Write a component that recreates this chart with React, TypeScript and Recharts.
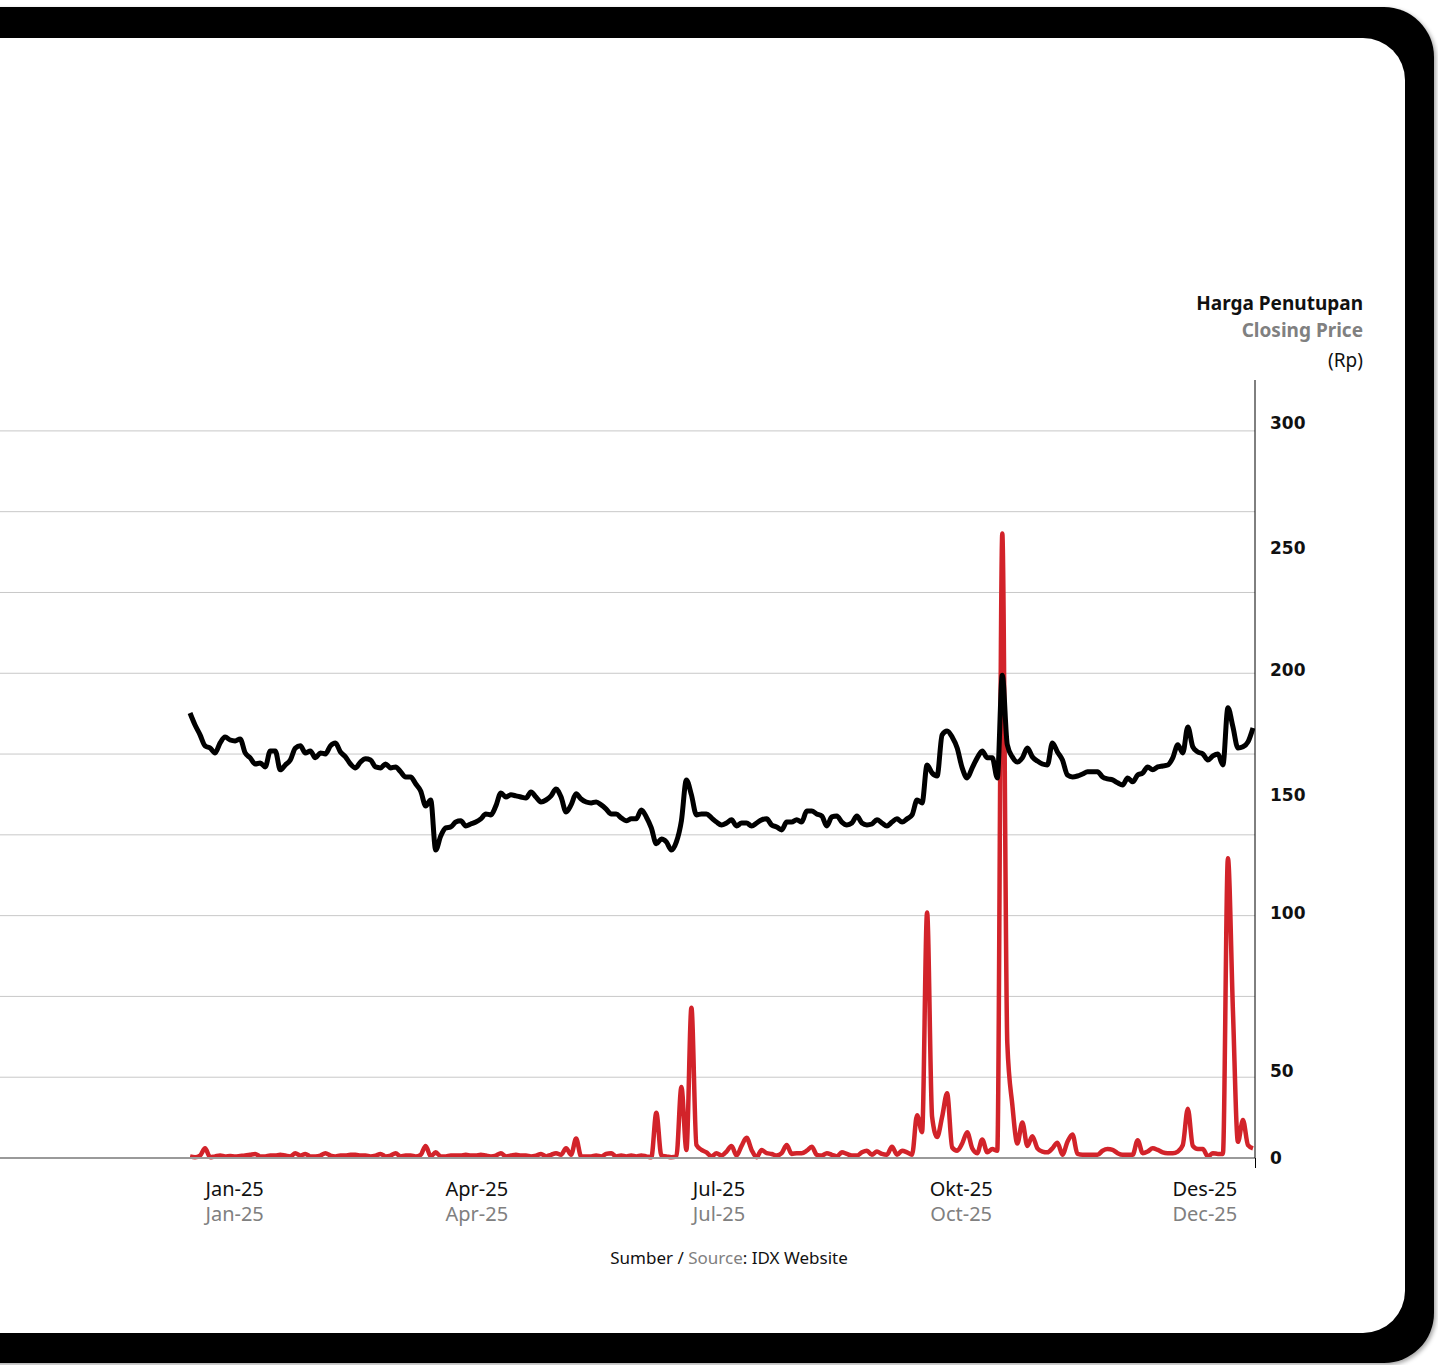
import React from "react";
import { LineChart, Line, XAxis, YAxis, CartesianGrid } from "recharts";

// Closing price (Rp), trading-day order through 2025
const closingPrice = [
  181.6, 176.7, 172.7, 168.2, 167.3, 165.3, 169.4, 171.8, 170.6, 170.2,
  171.0, 165.3, 163.3, 160.8, 161.2, 159.6, 166.1, 166.1, 158.4, 160.4,
  162.4, 167.3, 168.2, 165.3, 166.1, 163.3, 165.3, 164.9, 168.2, 169.4,
  165.7, 163.7, 160.8, 159.2, 161.6, 162.9, 162.4, 159.6, 159.2, 160.8,
  159.2, 159.6, 157.6, 155.5, 155.5, 152.7, 149.8, 143.7, 146.1, 125.7,
  131.4, 134.7, 135.1, 137.1, 137.6, 135.5, 136.3, 137.1, 138.4, 140.4,
  140.0, 143.7, 149.0, 147.3, 148.2, 147.8, 147.3, 146.9, 149.4, 147.3,
  145.3, 146.1, 147.8, 150.6, 147.3, 141.2, 144.1, 148.6, 146.5, 145.3,
  144.9, 145.3, 144.1, 142.4, 140.4, 140.4, 138.8, 137.6, 138.4, 138.4,
  142.0, 139.2, 134.7, 128.2, 130.2, 129.0, 125.7, 129.0, 137.6, 154.3,
  148.2, 140.0, 140.4, 140.4, 138.8, 137.1, 135.9, 136.7, 138.0, 135.5,
  136.7, 136.7, 135.5, 136.7, 138.0, 138.4, 135.9, 135.1, 133.9, 137.1,
  137.1, 138.0, 137.1, 141.6, 141.6, 140.4, 139.6, 135.5, 139.2, 139.6,
  137.1, 135.9, 136.7, 139.6, 136.7, 135.9, 136.3, 138.0, 136.7, 135.5,
  137.1, 138.4, 137.1, 138.4, 140.0, 146.1, 144.9, 160.4, 157.1, 155.9,
  172.7, 174.3, 171.8, 167.3, 159.2, 155.1, 159.2, 163.3, 166.1, 163.3,
  163.3, 155.1, 197.0, 168.6, 163.7, 161.6, 163.3, 167.3, 163.7, 162.0,
  160.8, 160.4, 169.4, 165.7, 162.4, 156.3, 155.5, 155.9, 156.7, 157.6,
  157.6, 157.6, 155.5, 154.7, 154.3, 153.1, 152.2, 155.1, 153.5, 156.3,
  157.1, 159.6, 158.4, 159.6, 160.0, 160.4, 163.3, 168.6, 165.3, 175.9,
  167.8, 165.7, 164.9, 162.4, 164.1, 164.9, 160.4, 183.7, 175.9, 167.3,
  167.8, 169.8, 175.5,
];

// Trading volume (hidden left scale)
const volume = [
  0.2, 0.1, 0.3, 1.2, 0.1, 0.2, 0.3, 0.2, 0.25, 0.2,
  0.25, 0.3, 0.4, 0.5, 0.2, 0.2, 0.3, 0.3, 0.4, 0.3,
  0.2, 0.6, 0.3, 0.5, 0.2, 0.2, 0.3, 0.6, 0.3, 0.2,
  0.3, 0.3, 0.4, 0.4, 0.3, 0.3, 0.2, 0.3, 0.5, 0.2,
  0.3, 0.6, 0.2, 0.3, 0.3, 0.2, 0.4, 1.5, 0.2, 0.7,
  0.2, 0.2, 0.3, 0.3, 0.3, 0.4, 0.3, 0.3, 0.4, 0.3,
  0.2, 0.3, 0.6, 0.2, 0.3, 0.4, 0.3, 0.3, 0.2, 0.3,
  0.5, 0.2, 0.4, 0.6, 0.4, 1.2, 0.4, 2.4, 0.2, 0.2,
  0.2, 0.3, 0.2, 0.5, 0.6, 0.2, 0.3, 0.2, 0.3, 0.2,
  0.3, 0.2, 0.1, 5.6, 0.3, 0.2, 0.1, 0.2, 8.8, 1.0,
  18.6, 1.6, 1.0, 0.7, 0.2, 0.6, 0.3, 0.8, 1.5, 0.3,
  1.5, 2.5, 1.0, 0.1, 1.0, 0.6, 0.5, 0.3, 0.6, 1.6,
  0.5, 0.6, 0.6, 0.9, 1.4, 0.4, 0.3, 0.6, 0.4, 0.2,
  0.7, 0.5, 0.3, 0.3, 0.7, 0.9, 0.4, 0.8, 0.5, 0.4,
  1.4, 0.4, 0.9, 0.7, 0.4, 5.3, 3.2, 30.4, 5.1, 2.6,
  5.1, 8.0, 1.3, 0.9, 1.8, 3.2, 1.2, 0.6, 2.3, 0.7,
  1.1, 0.9, 77.3, 14.2, 6.6, 1.8, 4.4, 1.5, 2.7, 1.2,
  0.8, 0.7, 1.2, 1.9, 0.4, 2.0, 2.9, 0.5, 0.4, 0.4,
  0.4, 0.4, 0.9, 1.1, 1.0, 0.6, 0.4, 0.4, 0.4, 2.2,
  0.6, 0.8, 1.2, 1.0, 0.7, 0.6, 0.6, 0.8, 1.6, 6.1,
  1.5, 1.1, 1.1, 0.2, 0.6, 0.5, 0.5, 37.1, 18.2, 2.0,
  4.7, 1.6, 1.2,
];

const tickPositions = [8.9, 57.2, 105.5, 153.8, 202.4];
const tickLabelsId = ["Jan-25", "Apr-25", "Jul-25", "Okt-25", "Des-25"];
const tickLabelsEn = ["Jan-25", "Apr-25", "Jul-25", "Oct-25", "Dec-25"];
const priceTicks = [0, 50, 100, 150, 200, 250, 300];
const volumeTicks = [0, 10, 20, 30, 40, 50, 60, 70, 80, 90];

const data = closingPrice.map((p, i) => ({ i, price: p, volume: volume[i] }));

const FONT = "'Noto Sans', 'Open Sans', sans-serif";

const XTick = (props: any) => {
  const { x, y, payload, index } = props;
  let idx = tickPositions.indexOf(payload.value);
  if (idx < 0) idx = index ?? payload.index ?? 0;
  return (
    <g>
      <text x={x} y={y + 38} textAnchor="middle" fontFamily={FONT} fontSize={20} fill="#111">
        {tickLabelsId[idx]}
      </text>
      <text x={x} y={y + 63} textAnchor="middle" fontFamily={FONT} fontSize={20} fill="#808080">
        {tickLabelsEn[idx]}
      </text>
    </g>
  );
};

// label offsets replicating the reference's hand placement of the axis labels
const labelNudge: Record<number, number> = { 50: 36, 150: 5, 200: 2, 250: 3 };

const YTick = (props: any) => {
  const { x, y, payload } = props;
  const nudge = labelNudge[payload.value] ?? 0;
  return (
    <text
      x={x + 15}
      y={y + nudge}
      dy={6}
      textAnchor="start"
      fontFamily="'DejaVu Sans', sans-serif"
      fontWeight="bold"
      fontSize={17}
      fill="#111"
    >
      {payload.value}
    </text>
  );
};

export default function App() {
  return (
    <div style={{ position: "relative", width: 1438, height: 1365, overflow: "hidden", background: "#fff" }}>
      <style>{"body{margin:0}"}</style>
      {/* frame */}
      <div
        style={{
          position: "absolute",
          left: -60,
          top: 7,
          width: 1494,
          height: 1356,
          background: "#000",
          borderTopRightRadius: 50,
          borderBottomRightRadius: 50,
          boxShadow: "2px 2px 4px rgba(0,0,0,0.35)",
        }}
      />
      <div
        style={{
          position: "absolute",
          left: -60,
          top: 38,
          width: 1465,
          height: 1295,
          background: "#fff",
          borderTopRightRadius: 42,
          borderBottomRightRadius: 42,
        }}
      />
      {/* axis title */}
      <div
        style={{
          position: "absolute",
          right: 75,
          top: 290,
          textAlign: "right",
          fontFamily: FONT,
          fontSize: 19,
          lineHeight: "27px",
        }}
      >
        <div style={{ fontWeight: 700, color: "#111" }}>Harga Penutupan</div>
        <div style={{ fontWeight: 700, color: "#808080" }}>Closing Price</div>
        <div style={{ color: "#111", marginTop: 3 }}>(Rp)</div>
      </div>
      <div style={{ position: "absolute", left: 0, top: 0 }}>
        <LineChart width={1400} height={1228} data={data} margin={{ top: 380, right: 0, left: 0, bottom: 0 }}>
          <CartesianGrid yAxisId="vol" vertical={false} syncWithTicks stroke="#c8c8c8" strokeWidth={1} />
          <XAxis
            dataKey="i"
            type="number"
            domain={[-37.9, 212.4]}
            ticks={tickPositions}
            tick={<XTick />}
            tickLine={false}
            tickSize={0}
            tickMargin={0}
            height={70}
            axisLine={{ stroke: "#9a9a9a", strokeWidth: 2 }}
            allowDataOverflow
          />
          <YAxis yAxisId="vol" hide width={0} domain={[0, 96.3]} ticks={volumeTicks} />
          <YAxis
            yAxisId="price"
            orientation="right"
            width={145}
            domain={[0, 317.5]}
            ticks={priceTicks}
            tick={<YTick />}
            tickLine={false}
            tickSize={0}
            tickMargin={0}
            axisLine={{ stroke: "#000", strokeWidth: 1 }}
            allowDataOverflow
          />
          <Line
            yAxisId="vol"
            dataKey="volume"
            type="monotone"
            stroke="#d2232a"
            strokeWidth={4.5}
            dot={false}
            isAnimationActive={false}
          />
          <Line
            yAxisId="price"
            dataKey="price"
            type="monotone"
            stroke="#000"
            strokeWidth={5}
            dot={false}
            isAnimationActive={false}
          />
        </LineChart>
      </div>
      {/* axis line extension below baseline */}
      <div style={{ position: "absolute", left: 1254.5, top: 1158, width: 1, height: 10, background: "#000" }} />
      {/* source */}
      <div
        style={{
          position: "absolute",
          left: 529,
          width: 400,
          top: 1245,
          textAlign: "center",
          fontFamily: FONT,
          fontSize: 17,
          lineHeight: "26px",
          color: "#111",
        }}
      >
        Sumber / <span style={{ color: "#808080" }}>Source</span>: IDX Website
      </div>
    </div>
  );
}
